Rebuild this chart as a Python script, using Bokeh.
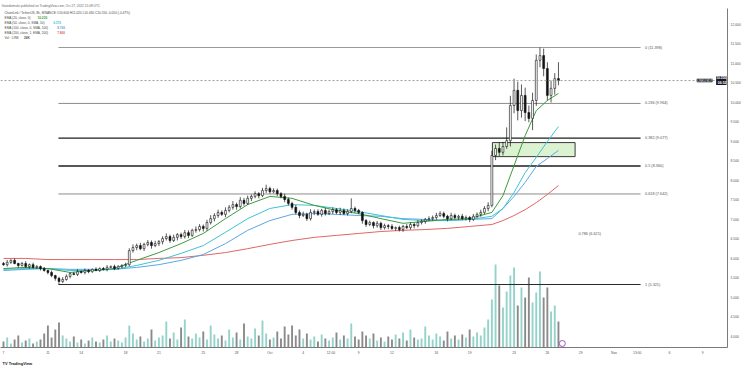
from bokeh.plotting import figure
from bokeh.models import (Range1d, FixedTicker, Label, Title, Span,
                          ColumnDataSource, NumeralTickFormatter)
from bokeh.embed import file_html
from bokeh.resources import INLINE

# ---------------- data ----------------
CANDLES_PER_DAY = 3          # candle index / 3 = days since Sep 7, 2022
first_open = 5.86
closes = [
    5.83, 5.89, 5.94, 5.86, 5.81, 5.86, 5.78, 5.83, 5.76, 5.78, 5.73,
    5.68, 5.63, 5.55, 5.48, 5.40, 5.45,
    5.53, 5.60, 5.58, 5.65, 5.63, 5.68, 5.65, 5.71, 5.68,
    5.73, 5.71, 5.76, 5.78, 5.73, 5.78, 5.81, 5.83,
    6.19,
    6.27, 6.32, 6.24, 6.35, 6.40, 6.32, 6.37, 6.42,
    6.50, 6.55, 6.45, 6.53, 6.60,
    6.55, 6.65, 6.58, 6.71, 6.73,
    6.81, 6.76, 6.91, 7.01, 7.09,
    7.17, 7.12, 7.22, 7.30, 7.37,
    7.32, 7.48, 7.40, 7.53, 7.58,
    7.65, 7.60, 7.73, 7.78, 7.70,
    7.73, 7.65, 7.58, 7.50, 7.40,
    7.30, 7.17, 7.09, 7.12, 7.01,
    7.17, 7.19, 7.12, 7.22, 7.14,
    7.19, 7.24, 7.17, 7.22, 7.14,
    7.19, 7.27, 7.22, 7.17, 6.96,
    6.86, 6.91, 6.83, 6.89, 6.78,
    6.83, 6.81, 6.76, 6.78, 6.73,
    6.81, 6.78, 6.86, 6.83, 6.91,
    6.94, 6.99, 7.01, 7.04, 7.09,
    7.14, 7.07, 7.01, 7.09, 7.04,
    7.07, 7.01, 7.04, 6.99, 7.07,
    7.12, 7.17, 7.27, 7.35,
    8.63,
    8.81, 8.71, 8.86, 9.01,
    9.91,
    10.30, 9.78, 10.17, 9.73, 9.58,
    10.04, 11.07, 11.19, 10.86,
    10.17, 10.35, 10.60, 10.55,
]
wick_up = [
    .04, .06, .03, .05, .02, .04, .06, .03, .05, .04, .03,
    .04, .03, .05, .02, .04, .06,
    .05, .03, .04, .06, .03, .05, .04, .02, .05,
    .03, .04, .06, .03, .05, .04, .03, .05,
    .06,
    .08, .05, .07, .04, .06, .05, .07, .04,
    .06, .08, .05, .07, .04,
    .05, .07, .06, .04, .08,
    .06, .05, .07, .09, .06,
    .07, .05, .08, .06, .09,
    .05, .08, .06, .07, .05,
    .06, .04, .07, .10, .05,
    .06, .05, .04, .07, .05,
    .04, .06, .05, .07, .04,
    .08, .05, .06, .04, .07,
    .05, .06, .04, .07, .05,
    .06, .26, .05, .04, .03,
    .04, .05, .03, .06, .04,
    .05, .04, .06, .03, .05,
    .04, .06, .05, .04, .06,
    .05, .04, .06, .05, .07,
    .06, .05, .04, .07, .05,
    .04, .06, .05, .04, .06,
    .05, .07, .06, .08,
    .12,
    .10, .15, .12, .34,
    .25,
    .30, .22, .28, .20, .18,
    .20, .15, .208, .18,
    .16, .20, .14, .42,
]
wick_dn = [
    .03, .05, .04, .02, .06, .03, .04, .05, .03, .04, .05,
    .03, .05, .04, .06, .08, .04,
    .03, .05, .02, .04, .03, .05, .04, .03, .02,
    .04, .03, .05, .02, .04, .03, .05, .04,
    .04,
    .05, .07, .04, .06, .05, .08, .04, .06,
    .07, .05, .06, .04, .08,
    .06, .05, .07, .04, .06,
    .05, .08, .06, .05, .07,
    .06, .04, .07, .05, .06,
    .08, .05, .06, .04, .07,
    .05, .07, .04, .06, .05,
    .04, .06, .05, .07, .05,
    .06, .05, .07, .04, .06,
    .05, .07, .04, .06, .05,
    .04, .06, .05, .07, .04,
    .05, .04, .06, .05, .08,
    .06, .04, .07, .05, .06,
    .05, .07, .04, .06, .05,
    .06, .04, .05, .07, .04,
    .05, .06, .04, .05, .06,
    .04, .05, .07, .04, .05,
    .06, .04, .05, .07, .04,
    .05, .06, .04, .07,
    .05,
    .12, .10, .08, .06,
    .15,
    .20, .25, .18, .22, .10,
    .30, .14, .18, .20,
    .13, .18, .16, .12,
]
volumes_k = [
    6, 10, 4, 8, 12, 5, 7, 9, 4, 6, 8,
    14, 22, 10, 18, 25, 12,
    9, 6, 11, 5, 8, 4, 7, 10, 6,
    5, 8, 12, 6, 9, 7, 5, 10,
    22,
    14, 8, 11, 6, 9, 18, 7, 10,
    12, 26, 9, 15, 8,
    20, 28, 11, 9, 14,
    10, 16, 8, 22, 13,
    9, 12, 7, 18, 10,
    15, 8, 24, 11, 9,
    19, 12, 27, 14, 8,
    10, 16, 9, 21, 13,
    22, 12, 18, 9, 14,
    8, 11, 6, 13, 9,
    7, 10, 15, 8, 12,
    9, 24, 11, 8, 16,
    12, 9, 14, 7, 10,
    6, 11, 8, 13, 9,
    15, 7, 18, 10, 8,
    9, 21, 12, 8, 14,
    11, 7, 16, 9, 12,
    8, 13, 10, 18, 11,
    15, 12, 20, 28,
    48,
    83, 62, 40, 56,
    72,
    80, 42, 60, 50, 70,
    45, 55, 76, 50,
    60, 36, 42, 26,
]

ema_days = [0, 2, 4, 6, 8, 10, 12, 14, 16, 18, 20, 22, 24, 26, 28, 30, 32, 34,
            36, 38, 40, 42, 44, 45, 46, 47, 48, 49, 50]
ema20 = [5.73, 5.76, 5.73, 5.63, 5.68, 5.73, 5.94, 6.14, 6.37, 6.63, 7.01, 7.37,
         7.58, 7.53, 7.35, 7.22, 7.14, 7.01, 6.89, 6.94, 6.99, 7.01, 7.17,
         7.60, 8.37, 9.14, 9.78, 10.04, 10.22]
ema50 = [5.71, 5.73, 5.73, 5.68, 5.68, 5.71, 5.81, 5.94, 6.12, 6.32, 6.66, 7.01,
         7.27, 7.37, 7.35, 7.27, 7.19, 7.09, 6.99, 6.96, 6.96, 6.99, 7.07,
         7.27, 7.68, 8.19, 8.58, 8.99, 9.37]
ema100 = [5.68, 5.71, 5.73, 5.71, 5.71, 5.71, 5.76, 5.83, 5.94, 6.09, 6.37, 6.71,
          6.96, 7.12, 7.14, 7.12, 7.09, 7.07, 7.01, 6.99, 6.96, 6.99, 7.01,
          7.27, 7.58, 7.94, 8.35, 8.55, 8.76]
ema200 = [5.99, 5.99, 5.96, 5.96, 5.96, 5.96, 5.96, 5.99, 6.01, 6.07, 6.14, 6.24,
          6.35, 6.45, 6.53, 6.58, 6.63, 6.68, 6.71, 6.73, 6.76, 6.81, 6.86,
          6.96, 7.09, 7.24, 7.42, 7.63, 7.86]

fib_high = 11.398
fib_low = 5.321
fib_levels = [0, 0.236, 0.382, 0.5, 0.618, 0.786, 1]
fib_days = [4.95, 57.4]          # drawn from / to (days)

zone_days = [44.05, 51.5]
zone_prices = [8.60, 8.96]

price_ticks = [4.0, 4.5, 5.0, 5.5, 6.0, 6.5, 7.0, 7.5, 8.0, 8.5, 9.0, 9.5,
               10.0, 10.5, 11.0, 11.5, 12.0]
time_tick_days = [0, 4, 7, 11, 14, 18, 21, 24, 27, 29.5, 32, 35, 39, 42, 46,
                  49, 52, 55, 57.1, 60, 63]
time_tick_labels = ["7", "11", "14", "18", "21", "25", "28", "Oct", "4", "12:00",
                    "9", "12", "16", "19", "23", "26", "29", "Nov", "13:00", "6", "9"]

n = len(closes)
assert len(wick_up) == n and len(wick_dn) == n and len(volumes_k) == n, (
    len(closes), len(wick_up), len(wick_dn), len(volumes_k))

# ---------------- derived columns ----------------
days = [i / CANDLES_PER_DAY for i in range(n)]
opens = [first_open] + closes[:-1]
highs = [max(o, c) + w for o, c, w in zip(opens, closes, wick_up)]
lows = [min(o, c) - w for o, c, w in zip(opens, closes, wick_dn)]
is_up = [c >= o for o, c in zip(opens, closes)]

src = ColumnDataSource(dict(
    t=days, o=opens, c=closes, h=highs, l=lows, v=volumes_k,
    top=[max(o, c) for o, c in zip(opens, closes)],
    bot=[min(o, c) for o, c in zip(opens, closes)],
    fill=["#ffffff" if u else "#131313" for u in is_up],
    vcol=["#93d3ca" if u else "#8a8a8a" for u in is_up],
))

FONT = "Liberation Sans"
TXT = "#4a4a4a"
FS = 3.2

# approximate Arial/Liberation Sans advance widths (em) for placing values
_W = {**{d: .556 for d in "0123456789"}, ".": .278, ",": .278, " ": .278,
      "(": .333, ")": .333, "/": .278, "\u00b7": .278, ":": .278,
      "A": .667, "E": .667, "M": .833, "S": .667, "V": .667, "L": .556,
      "I": .278, "N": .722, "K": .667}


def text_w(s, fs):
    return sum(_W.get(ch, .52) for ch in s) * fs


p = figure(width=745, height=368, output_backend="svg", toolbar_location=None,
           x_range=Range1d(-0.27, 65.23), y_range=Range1d(3.706, 12.398),
           y_axis_location="right",
           min_border_left=0, min_border_right=18, min_border_top=8,
           min_border_bottom=21,
           title="Gatedotmalo published on TradingView.com, Oct 27, 2022 15:08 UTC")
p.extra_y_ranges = {"vol": Range1d(0, 339)}
p.grid.visible = False
p.outline_line_color = None
p.background_fill_color = "white"
p.border_fill_color = "white"

p.title.text_font = FONT
p.title.text_font_size = f"{FS}px"
p.title.text_font_style = "normal"
p.title.text_color = "#666666"
p.title.standoff = 1
p.title.offset = 1

# axes
ya = p.yaxis[0]
ya.ticker = FixedTicker(ticks=price_ticks)
ya.formatter = NumeralTickFormatter(format="0.000")
xa = p.xaxis[0]
xa.ticker = FixedTicker(ticks=time_tick_days)
xa.major_label_overrides = dict(zip(time_tick_days, time_tick_labels))
for ax in (ya, xa):
    ax.major_label_text_font = FONT
    ax.major_label_text_font_size = "3.4px"
    ax.major_label_text_color = "#555555"
    ax.major_tick_out = 0
    ax.major_tick_in = 0
    ax.minor_tick_out = 0
    ax.minor_tick_in = 0
    ax.axis_line_color = "#7a7a7a"
    ax.axis_line_width = 1
ya.major_label_standoff = 3
xa.major_label_standoff = 3

p.add_layout(Title(text="TV TradingView", text_font=FONT, text_font_size="4px",
                   text_font_style="bold", text_color="#131722", align="left",
                   offset=2, standoff=3, text_line_height=1.0), "below")

# volume (overlay, bottom)
p.vbar(x="t", width=0.17, top="v", bottom=0, source=src, y_range_name="vol",
       fill_color="vcol", line_color=None)

# fib retracement lines & labels
fib_style = {0: ("#9a9a9a", 1.0, 1.0), 0.236: ("#8c8c8c", 1.0, 1.0),
             0.382: ("#1e1e1e", 1.3, 1.0), 0.5: ("#1e1e1e", 1.3, 1.0),
             0.618: ("#8c8c8c", 1.0, 1.0), 0.786: ("#8c8c8c", 1.0, 0.0),
             1: ("#2a2a2a", 1.2, 1.0)}
for lvl in fib_levels:
    price = fib_high - lvl * (fib_high - fib_low)
    col, w, a = fib_style[lvl]
    if a > 0:
        p.line(fib_days, [price, price], line_color=col, line_width=w)
    lx = 57.8 if lvl != 0.786 else 51.8
    p.add_layout(Label(x=lx, y=price, text=f"{lvl:g} ({price:.3f})",
                       text_font=FONT, text_font_size="3.8px", text_color="#555555",
                       text_baseline="middle"))

# demand zone rectangle
p.quad(left=zone_days[0], right=zone_days[1], bottom=zone_prices[0],
       top=zone_prices[1], fill_color="#dcf3d2", line_color="#3a3a3a",
       line_width=1)

# EMAs
ema_cols = ["#3d9b3d", "#3fc3d3", "#5aa7e8", "#e06666"]
for arr, col in zip([ema200, ema100, ema50, ema20], ema_cols[::-1]):
    p.line(ema_days, arr, line_color=col, line_width=1)

# candles
p.segment(x0="t", y0="l", x1="t", y1="h", source=src, line_color="#131313",
          line_width=0.7)
p.vbar(x="t", width=0.17, top="top", bottom="bot", source=src,
       fill_color="fill", line_color="#131313", line_width=0.6)

# current price line
last = closes[-1]
p.add_layout(Span(location=last, dimension="width", line_color="#9a9a9a",
                  line_dash="2 2", line_width=1))

# ideas marker
p.scatter([days[-1] + 0.35], [4], y_range_name="vol", size=6, marker="circle",
          fill_color="white", line_color="#a050c8", line_width=1)

# legend block
leg_top = 12.295
step = 0.128
o, h, l, c = opens[-1], highs[-1], lows[-1], closes[-1]
chg = c - closes[-2]
lines = [
    (f"ChainLink / TetherUS, 8h, BINANCE  O{o:.3f} H{h:.3f} L{l:.3f} C{c:.3f} "
     f"{chg:+.3f} ({chg / closes[-2] * 100:+.2f}%)", None, None),
    ("EMA (20, close, 0)", f"{ema20[-1]:.3f}", ema_cols[0]),
    ("EMA (50, close, 0, SMA, 50)", f"{ema50[-1]:.3f}", ema_cols[1]),
    ("EMA (100, close, 0, SMA, 100)", f"{ema100[-1]:.3f}", ema_cols[2]),
    ("EMA (200, close, 1, EMA, 200)", f"{ema200[-1]:.3f}", ema_cols[3]),
    ("Vol \u00b7 LINK", f"{volumes_k[-1]}K", "#555555"),
]
for k, (txt, val, col) in enumerate(lines):
    y = leg_top - k * step
    p.add_layout(Label(x=4, x_units="screen", y=y, text=txt, text_font=FONT,
                       text_font_size=f"{FS}px", text_color=TXT,
                       text_baseline="middle"))
    if val:
        vx = 4 + text_w(txt, FS) * 1.12 + 2.5
        p.add_layout(Label(x=vx, x_units="screen", y=y, text=val, text_font=FONT,
                           text_font_size=f"{FS}px", text_color=col,
                           text_font_style="bold", text_baseline="middle"))

# price tags at the right edge of the pane
p.add_layout(Label(x=65.23, y=last, x_offset=-1, text=f"{last:.3f}\n06:52",
                   text_font=FONT, text_font_size="3.4px", text_color="white",
                   text_align="right", text_baseline="middle",
                   background_fill_color="#131722", text_font_style="bold"))
p.add_layout(Label(x=65.23, y=last, x_offset=-15, text="LINKUSDT",
                   text_font=FONT, text_font_size="3.2px", text_color="white",
                   text_align="right", text_baseline="middle",
                   background_fill_color="#131722"))

open("out.html", "w").write(file_html(p, INLINE))
